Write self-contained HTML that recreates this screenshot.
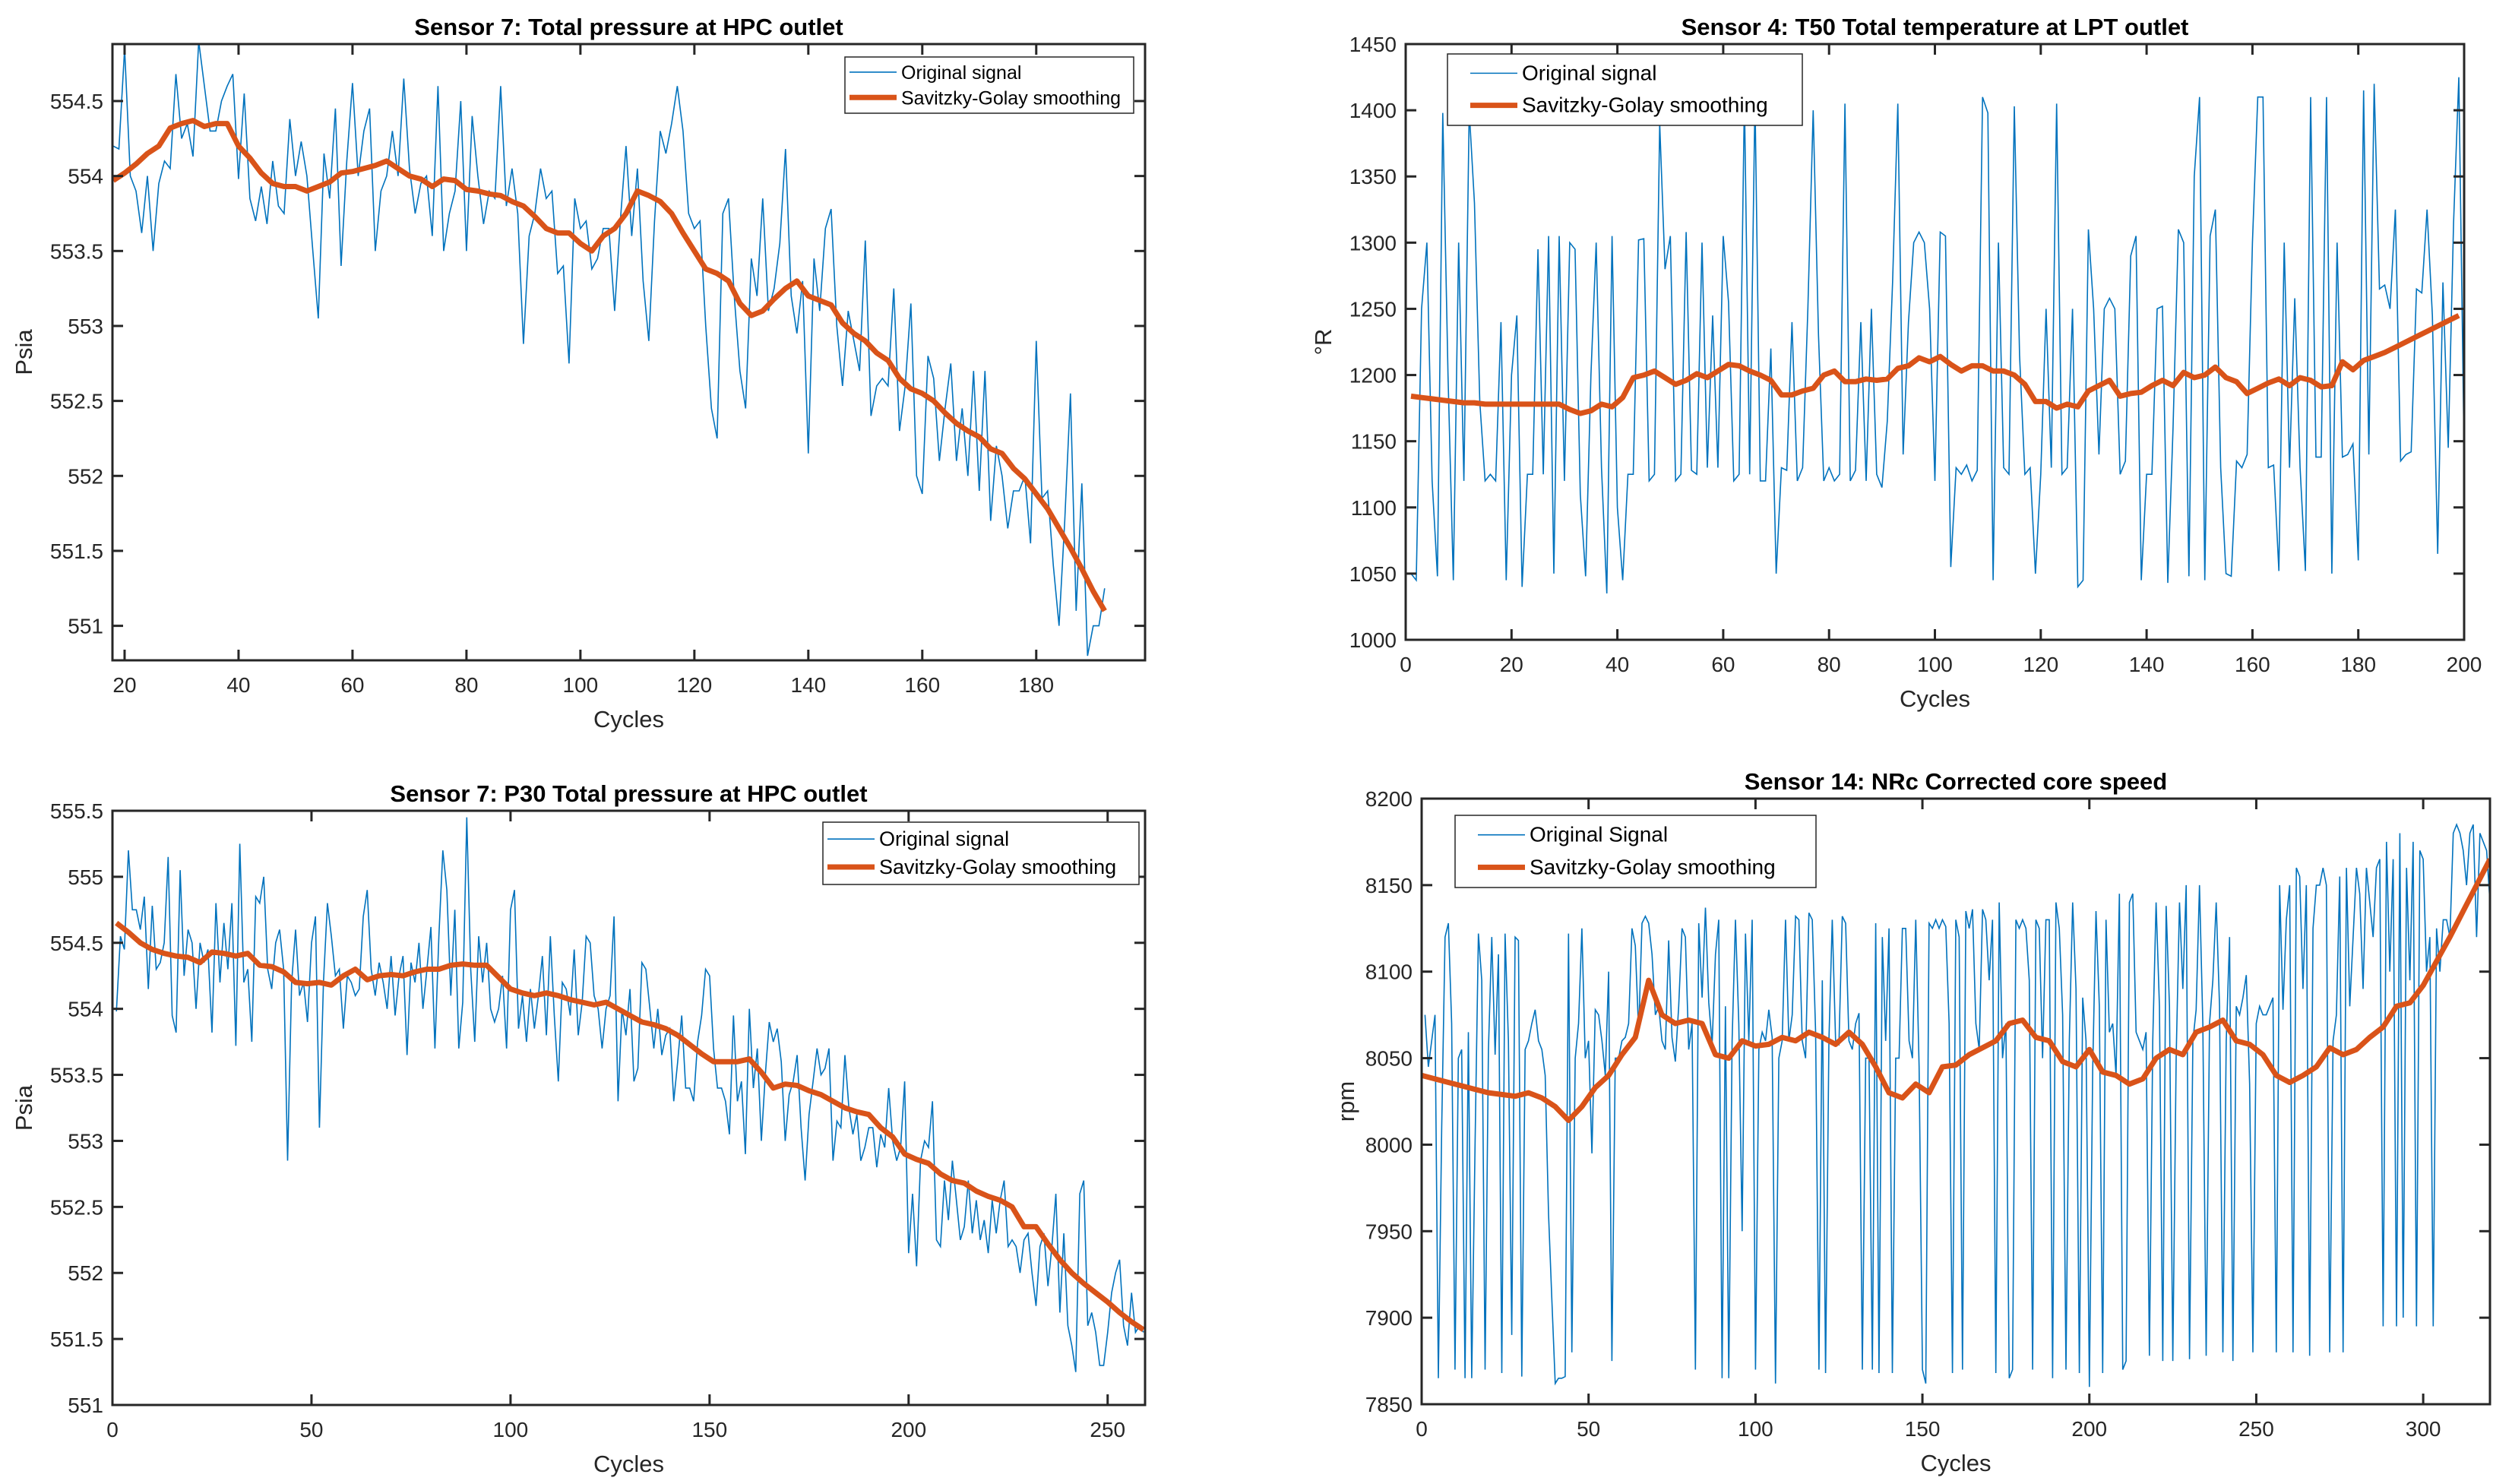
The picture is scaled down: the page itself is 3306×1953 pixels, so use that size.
<!DOCTYPE html>
<html><head><meta charset="utf-8">
<style>
html,body{margin:0;padding:0;background:#fff;}
svg{display:block;font-family:"Liberation Sans",Arial,sans-serif;}
</style></head>
<body>
<svg id="fig" width="3306" height="1953" viewBox="0 0 3306 1953" xmlns="http://www.w3.org/2000/svg"></svg>
<script>
// ---------- Panel 1 data ----------
const p1Start = 18;
const p1Raw = [554.2,554.18,554.85,554.0,553.9,553.62,554.0,553.5,553.95,554.1,554.05,554.68,554.25,554.35,554.13,554.9,554.6,554.3,554.3,554.5,554.6,554.68,553.98,554.55,553.85,553.7,553.93,553.68,554.1,553.8,553.75,554.38,554.0,554.23,554.0,553.52,553.05,554.15,553.85,554.45,553.4,554.1,554.62,554.0,554.3,554.45,553.5,553.9,554.0,554.3,554.0,554.65,554.05,553.75,553.95,554.0,553.6,554.6,553.5,553.75,553.9,554.5,553.5,554.4,554.0,553.68,553.9,553.85,554.6,553.8,554.05,553.75,552.88,553.6,553.75,554.05,553.85,553.9,553.35,553.4,552.75,553.85,553.65,553.7,553.38,553.45,553.65,553.65,553.1,553.7,554.2,553.6,554.05,553.3,552.9,553.7,554.3,554.15,554.35,554.6,554.3,553.75,553.65,553.7,553.0,552.45,552.25,553.75,553.85,553.2,552.7,552.45,553.45,553.2,553.85,553.1,553.25,553.55,554.18,553.2,552.95,553.3,552.15,553.45,553.1,553.65,553.78,553.0,552.6,553.1,552.9,552.7,553.57,552.4,552.6,552.65,552.6,553.25,552.3,552.6,553.15,552.0,551.88,552.8,552.65,552.1,552.45,552.75,552.1,552.45,552.0,552.7,551.9,552.7,551.7,552.2,552.0,551.65,551.9,551.9,552.0,551.55,552.9,551.85,551.9,551.4,551.0,551.7,552.55,551.1,551.95,550.8,551.0,551.0,551.25];
const p1SmStart = 18, p1SmStep = 2;
const p1Smooth = [553.97,554.02,554.08,554.15,554.2,554.32,554.35,554.37,554.33,554.35,554.35,554.2,554.12,554.02,553.95,553.93,553.93,553.9,553.93,553.96,554.02,554.03,554.05,554.07,554.1,554.05,554.0,553.98,553.93,553.98,553.97,553.91,553.9,553.88,553.87,553.83,553.8,553.73,553.65,553.62,553.62,553.55,553.5,553.6,553.65,553.75,553.9,553.87,553.83,553.75,553.62,553.5,553.38,553.35,553.3,553.15,553.07,553.1,553.18,553.25,553.3,553.2,553.17,553.14,553.02,552.95,552.9,552.82,552.77,552.65,552.58,552.55,552.5,552.42,552.35,552.3,552.26,552.18,552.15,552.05,551.98,551.88,551.78,551.65,551.52,551.38,551.23,551.1];
const p1XTicks = [20,40,60,80,100,120,140,160,180];
const p1YTicks = [551,551.5,552,552.5,553,553.5,554,554.5];

// ---------- Panel 2 data ----------
const p2Start = 1;
const p2Raw = [1050,1045,1250,1300,1120,1048,1398,1200,1045,1300,1120,1400,1330,1180,1120,1125,1120,1240,1045,1200,1245,1040,1125,1125,1295,1125,1305,1050,1305,1120,1300,1295,1110,1048,1200,1300,1130,1035,1305,1100,1045,1125,1125,1302,1303,1120,1125,1390,1280,1305,1120,1125,1308,1128,1125,1300,1130,1245,1130,1305,1255,1120,1125,1410,1125,1410,1120,1120,1220,1050,1130,1128,1240,1120,1130,1250,1400,1230,1120,1130,1120,1125,1405,1120,1128,1240,1120,1250,1125,1115,1165,1270,1405,1140,1240,1300,1308,1300,1250,1120,1308,1305,1055,1130,1125,1132,1120,1128,1410,1398,1045,1300,1130,1125,1403,1215,1125,1130,1050,1125,1250,1130,1405,1125,1130,1250,1040,1045,1310,1250,1140,1250,1258,1250,1125,1135,1290,1305,1045,1125,1125,1250,1252,1043,1160,1310,1300,1048,1350,1410,1045,1305,1325,1130,1050,1048,1135,1130,1140,1300,1410,1410,1130,1132,1052,1300,1130,1258,1130,1052,1410,1138,1138,1410,1050,1300,1138,1140,1148,1060,1415,1140,1420,1265,1268,1250,1325,1135,1140,1142,1265,1262,1325,1245,1065,1270,1145,1315,1425,1140];
const p2SmStart = 1, p2SmStep = 2;
const p2Smooth = [1184,1183,1182,1181,1180,1179,1179,1178,1178,1178,1178,1178,1178,1178,1178,1174,1171,1173,1178,1176,1183,1198,1200,1203,1198,1193,1196,1201,1198,1203,1208,1207,1203,1200,1196,1185,1185,1188,1190,1200,1203,1195,1195,1197,1196,1197,1205,1207,1213,1210,1214,1208,1203,1207,1207,1203,1203,1200,1193,1180,1180,1175,1178,1176,1188,1192,1196,1184,1186,1187,1192,1196,1192,1202,1198,1200,1206,1198,1195,1186,1190,1194,1197,1192,1198,1196,1191,1192,1210,1204,1211,1214,1217,1221,1225,1229,1233,1237,1241,1245];
const p2XTicks = [0,20,40,60,80,100,120,140,160,180,200];
const p2YTicks = [1000,1050,1100,1150,1200,1250,1300,1350,1400,1450];

// ---------- Panel 3 data ----------
const p3Start = 1;
const p3Raw = [553.98,554.55,554.45,555.2,554.75,554.75,554.6,554.85,554.15,554.78,554.3,554.35,554.5,555.15,553.95,553.82,555.05,554.25,554.6,554.5,554.0,554.5,554.35,554.45,553.82,554.8,554.2,554.65,554.3,554.8,553.72,555.25,554.2,554.3,553.75,554.85,554.8,555.0,554.3,554.15,554.5,554.6,554.3,552.85,554.2,554.6,554.1,554.2,553.9,554.5,554.7,553.1,554.2,554.8,554.55,554.25,554.3,553.85,554.25,554.2,554.1,554.15,554.7,554.9,554.3,554.1,554.35,554.2,554.0,554.4,553.95,554.25,554.4,553.65,554.35,554.2,554.5,554.0,554.3,554.62,553.7,554.55,555.2,554.9,554.1,554.75,553.7,554.05,555.45,554.3,553.75,554.55,554.2,554.5,554.0,553.9,554.0,554.25,553.7,554.75,554.9,553.85,554.1,553.75,554.15,553.85,554.1,554.4,553.8,554.55,553.95,553.45,554.2,554.15,553.95,554.45,553.8,554.05,554.55,554.5,554.1,554.0,553.7,554.0,554.1,554.7,553.3,554.0,553.8,554.15,553.45,553.55,554.35,554.3,554.0,553.7,554.0,553.65,553.8,553.85,553.3,553.6,553.95,553.4,553.4,553.3,553.75,553.95,554.3,554.25,553.7,553.4,553.4,553.3,553.05,553.95,553.3,553.45,552.9,554.0,553.4,553.7,553.0,553.5,553.9,553.75,553.85,553.6,553.0,553.35,553.45,553.65,553.1,552.7,553.2,553.45,553.7,553.5,553.55,553.7,552.85,553.15,553.1,553.65,553.25,553.05,553.2,552.85,552.95,553.1,553.1,552.8,553.05,552.95,553.4,553.0,552.85,552.95,553.45,552.15,552.6,552.05,552.85,553.0,552.95,553.3,552.25,552.2,552.7,552.4,552.85,552.55,552.25,552.35,552.7,552.3,552.55,552.25,552.4,552.15,552.55,552.3,552.55,552.7,552.2,552.25,552.2,552.0,552.25,552.3,552.0,551.75,552.2,552.3,551.9,552.2,552.6,551.7,552.3,551.6,551.45,551.25,552.6,552.7,551.6,551.7,551.55,551.3,551.3,551.55,551.85,552.0,552.1,551.6,551.45,551.85,551.55,551.6,551.55];
const p3SmStart = 1, p3SmStep = 3;
const p3Smooth = [554.65,554.58,554.5,554.45,554.42,554.4,554.39,554.35,554.43,554.42,554.4,554.42,554.33,554.32,554.28,554.2,554.19,554.2,554.18,554.25,554.3,554.22,554.25,554.26,554.25,554.28,554.3,554.3,554.33,554.34,554.33,554.33,554.24,554.15,554.12,554.1,554.12,554.1,554.07,554.05,554.03,554.05,554.0,553.95,553.9,553.88,553.85,553.8,553.73,553.66,553.6,553.6,553.6,553.62,553.52,553.4,553.43,553.42,553.38,553.35,553.3,553.25,553.22,553.2,553.1,553.03,552.9,552.86,552.83,552.75,552.7,552.68,552.62,552.58,552.55,552.5,552.35,552.35,552.22,552.1,552.0,551.92,551.85,551.78,551.7,551.63,551.57];
const p3XTicks = [0,50,100,150,200,250];
const p3YTicks = [551,551.5,552,552.5,553,553.5,554,554.5,555,555.5];

// ---------- Panel 4 data ----------
const p4Start = 1;
const p4Raw = [8075,8045,8060,8075,7865,8010,8120,8128,8070,7870,8050,8055,7865,8065,7865,8000,8122,8095,7870,8055,8120,8052,8110,7868,8122,8060,7890,8120,8118,7866,8055,8060,8070,8078,8060,8055,8040,7960,7910,7862,7865,7865,7866,8122,7880,8050,8070,8125,8050,8060,7995,8078,8075,8060,8040,8100,7875,8050,8050,8060,8062,8070,8125,8115,8065,8128,8132,8128,8110,8075,8080,8060,8055,8118,8062,8048,8080,8125,8120,8055,8070,7870,8128,8085,8137,8082,8058,8110,8130,7865,8080,7865,8060,8130,8070,7950,8122,8060,8130,7870,8055,8065,8060,8078,8062,7862,8050,8060,8130,8060,8075,8132,8130,8060,8050,8134,8130,8065,7870,8095,7868,8060,8130,8060,8058,8132,8128,8060,8055,8070,8076,7870,8050,8050,7870,8128,7868,8120,8060,8125,7868,8050,8050,8125,8125,8060,8050,8130,8045,7870,7862,8128,8125,8130,8125,8130,8126,8070,7868,8130,8120,7870,8135,8125,8136,8070,8055,8136,8130,8095,8130,7868,8140,8050,8070,7865,7870,8130,8125,8130,8125,8095,7870,8130,8125,8050,8130,8130,7865,8140,8125,8075,7870,8060,8140,8090,7868,8085,8060,7860,8042,8135,8080,7868,8130,8065,8070,8040,8145,7870,7875,8140,8145,8065,8060,8055,8065,7878,8060,8140,8080,7875,8138,8080,7875,8050,8140,8090,8150,7876,8060,8078,8150,8070,7878,8070,8095,8140,8080,7880,8060,8120,7875,8080,8075,8085,8098,8035,7880,8070,8080,8075,8075,8080,8085,7880,8150,8078,8130,8150,7880,8160,8155,8090,8150,7878,8125,8150,8150,8160,8150,7880,8060,8075,8155,7880,8160,8080,8120,8160,8145,8090,8160,8140,8120,8160,8165,7895,8175,8100,8165,7895,8180,7900,8160,8095,8175,7895,8170,8165,8100,8120,7895,8125,8100,8130,8130,8120,8180,8185,8180,8170,8150,8180,8185,8120,8180,8175,8170,8140];
const p4SmStart = 0, p4SmStep = 4;
const p4Smooth = [8040,8038,8036,8034,8032,8030,8029,8028,8030,8027,8022,8014,8022,8033,8040,8052,8062,8095,8075,8070,8072,8070,8052,8050,8060,8057,8058,8062,8060,8065,8062,8058,8065,8058,8045,8030,8027,8035,8030,8045,8046,8052,8056,8060,8070,8072,8062,8060,8048,8045,8055,8042,8040,8035,8038,8050,8055,8052,8065,8068,8072,8060,8058,8052,8040,8036,8040,8045,8056,8052,8055,8062,8068,8080,8082,8092,8106,8120,8135,8150,8165];
const p4XTicks = [0,50,100,150,200,250,300];
const p4YTicks = [7850,7900,7950,8000,8050,8100,8150,8200];

const NS = "http://www.w3.org/2000/svg";
const svg = document.getElementById('fig');
function mk(tag, attrs, parent){
  const e = document.createElementNS(NS, tag);
  for (const k in attrs) e.setAttribute(k, attrs[k]);
  (parent||svg).appendChild(e);
  return e;
}
function fmt(v){ return String(Math.round(v*100)/100); }

function panel(cfg){
  const g = mk('g', {});
  
  
  const L=cfg.L,R=cfg.R,T=cfg.T,B=cfg.B;
  const sx = v => L + (v - cfg.x0) / (cfg.x1 - cfg.x0) * (R - L);
  const sy = v => B - (v - cfg.y0) / (cfg.y1 - cfg.y0) * (B - T);
  const cid = 'clip-' + cfg.name;
  const cp = mk('clipPath', {id: cid}, g);
  mk('rect', {x:L, y:T, width:R-L, height:B-T}, cp);
  let d = '';
  cfg.raw.forEach((v,i)=>{ d += (i?'L':'M') + sx(cfg.start+i).toFixed(1) + ' ' + sy(v).toFixed(1); });
  const raw = mk('path', {d:d, fill:'none', stroke:'#0072BD', 'stroke-width':1.6, 'clip-path':'url(#'+cid+')'}, g);
  
  
  d = '';
  cfg.sm.forEach((v,i)=>{ d += (i?'L':'M') + sx(cfg.smStart+i*cfg.smStep).toFixed(1) + ' ' + sy(v).toFixed(1); });
  const sm = mk('path', {d:d, fill:'none', stroke:'#D95319', 'stroke-width':7, 'stroke-linejoin':'round', 'clip-path':'url(#'+cid+')'}, g);
  
  
  const box = mk('rect', {x:L, y:T, width:R-L, height:B-T, fill:'none', stroke:'#262626', 'stroke-width':3}, g);
  
  
  const tl = 14;
  cfg.xt.forEach(v=>{
    const x = sx(v);
    mk('line', {x1:x, y1:B, x2:x, y2:B-tl, stroke:'#262626', 'stroke-width':3}, g);
    mk('line', {x1:x, y1:T, x2:x, y2:T+tl, stroke:'#262626', 'stroke-width':3}, g);
    const t = mk('text', {x:x, y:B+42, 'font-size':28, 'text-anchor':'middle', fill:'#262626'}, g);
    t.textContent = fmt(v);
    
    
  });
  cfg.yt.forEach(v=>{
    const y = sy(v);
    mk('line', {x1:L, y1:y, x2:L+tl, y2:y, stroke:'#262626', 'stroke-width':3}, g);
    mk('line', {x1:R, y1:y, x2:R-tl, y2:y, stroke:'#262626', 'stroke-width':3}, g);
    const t = mk('text', {x:L-12, y:y+10, 'font-size':28, 'text-anchor':'end', fill:'#262626'}, g);
    t.textContent = fmt(v);
    
    
  });
  const tt = mk('text', {x:(L+R)/2, y:T-12, 'font-size':31, 'font-weight':'bold', 'text-anchor':'middle', fill:'#000'}, g);
  tt.textContent = cfg.title;
  
  
  const xl = mk('text', {x:(L+R)/2, y:B+88, 'font-size':31, 'text-anchor':'middle', fill:'#262626'}, g);
  xl.textContent = 'Cycles';
  
  
  const yx = cfg.ylx, yy = (T+B)/2;
  const yl = mk('text', {x:yx, y:yy, 'font-size':31, 'text-anchor':'middle', fill:'#262626', transform:'rotate(-90 '+yx+' '+yy+')'}, g);
  yl.textContent = cfg.ylabel;
  
  
  const lg = mk('g', {}, g);
  
  
  const lx=cfg.lg[0], ly=cfg.lg[1], lw=cfg.lg[2], lh=cfg.lg[3];
  mk('rect', {x:lx, y:ly, width:lw, height:lh, fill:'#fff', stroke:'#262626', 'stroke-width':1.5}, lg);
  const r1 = ly + lh*0.27, r2 = ly + lh*0.72;
  mk('line', {x1:lx+cfg.lgPad, y1:r1, x2:lx+cfg.lgPad+cfg.lgLine, y2:r1, stroke:'#0072BD', 'stroke-width':1.6}, lg);
  mk('line', {x1:lx+cfg.lgPad, y1:r2, x2:lx+cfg.lgPad+cfg.lgLine, y2:r2, stroke:'#D95319', 'stroke-width':7}, lg);
  const e1 = mk('text', {x:lx+cfg.lgPad+cfg.lgLine+6, y:r1+9, 'font-size':cfg.lgFs, fill:'#000'}, lg);
  e1.textContent = cfg.lgText;
  
  
  const e2 = mk('text', {x:lx+cfg.lgPad+cfg.lgLine+6, y:r2+9, 'font-size':cfg.lgFs, fill:'#000'}, lg);
  e2.textContent = 'Savitzky-Golay smoothing';
  
  
}

panel({name:'panel-sensor7-top', L:148,R:1507,T:58,B:869, x0:17.87,x1:199.1, y0:550.77,y1:554.88,
  raw:p1Raw,start:p1Start, sm:p1Smooth,smStart:p1SmStart,smStep:p1SmStep, xt:p1XTicks, yt:p1YTicks,
  title:'Sensor 7: Total pressure at HPC outlet', ylabel:'Psia', ylx:42,
  lg:[1112,75,380,74], lgPad:6, lgLine:62, lgFs:25, lgText:'Original signal'});
panel({name:'panel-sensor4', L:1850,R:3243,T:58,B:842, x0:0,x1:200, y0:1000,y1:1450,
  raw:p2Raw,start:p2Start, sm:p2Smooth,smStart:p2SmStart,smStep:p2SmStep, xt:p2XTicks, yt:p2YTicks,
  title:'Sensor 4: T50 Total temperature at LPT outlet', ylabel:'°R', ylx:1752,
  lg:[1905,71,467,94], lgPad:30, lgLine:62, lgFs:28, lgText:'Original signal'});
panel({name:'panel-sensor7-p30', L:148,R:1507,T:1067,B:1849, x0:0,x1:259.4, y0:551,y1:555.5,
  raw:p3Raw,start:p3Start, sm:p3Smooth,smStart:p3SmStart,smStep:p3SmStep, xt:p3XTicks, yt:p3YTicks,
  title:'Sensor 7: P30 Total pressure at HPC outlet', ylabel:'Psia', ylx:42,
  lg:[1083,1082,416,82], lgPad:6, lgLine:62, lgFs:27, lgText:'Original signal'});
panel({name:'panel-sensor14', L:1871,R:3277,T:1051,B:1848, x0:0,x1:320, y0:7850,y1:8200,
  raw:p4Raw,start:p4Start, sm:p4Smooth,smStart:p4SmStart,smStep:p4SmStep, xt:p4XTicks, yt:p4YTicks,
  title:'Sensor 14: NRc Corrected core speed', ylabel:'rpm', ylx:1782,
  lg:[1915,1073,475,95], lgPad:30, lgLine:62, lgFs:28, lgText:'Original Signal'});
</script>
</body></html>
